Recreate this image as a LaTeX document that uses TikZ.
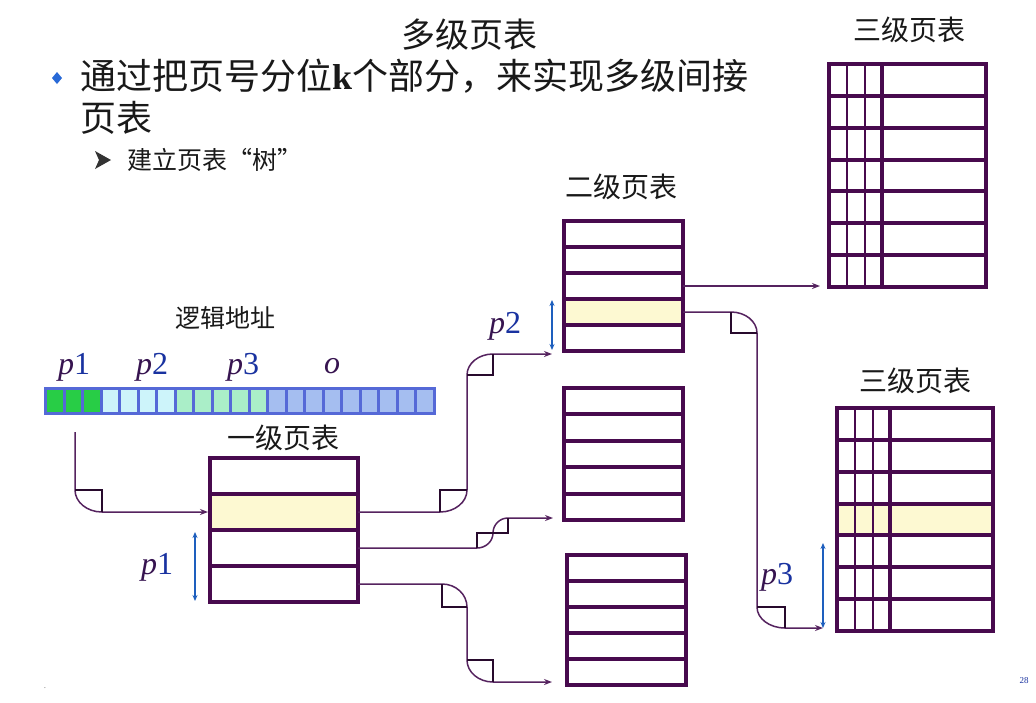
\documentclass[tikz,border=0pt]{standalone}
\usepackage{fontspec}
\setmainfont{Liberation Serif}
\newfontfamily\cjk{Noto Sans CJK SC}
\usetikzlibrary{arrows.meta}

\definecolor{tblc}{RGB}{72,10,78}
\definecolor{connc}{RGB}{85,35,95}
\definecolor{sqc}{RGB}{40,10,45}
\definecolor{hlc}{RGB}{253,249,210}
\definecolor{bluec}{RGB}{30,95,190}
\definecolor{pcol}{RGB}{55,20,80}
\definecolor{dcol}{RGB}{25,50,160}
\definecolor{barc}{RGB}{85,105,215}
\definecolor{cgreen}{RGB}{40,205,70}
\definecolor{ccyan}{RGB}{205,244,250}
\definecolor{clgreen}{RGB}{170,238,200}
\definecolor{cblue}{RGB}{165,190,240}
\definecolor{txt}{RGB}{25,25,25}
\definecolor{bullc}{RGB}{40,105,215}

% one page-table: name, x, y (top), width, row height, rows, highlighted row
\newcommand\mktable[7]{%
  \foreach \i in {1,...,#6}{%
    \ifnum\i=#7\relax\def\rowfill{hlc}\else\def\rowfill{white}\fi
    \node[trow, fill=\rowfill, minimum width=#4pt, minimum height=#5pt]
      (#1r\i) at (#2,{#3+(\i-1)*#5}) {};
  }}

\begin{document}
\begin{tikzpicture}[x=1pt,y=-1pt,
  trow/.style={draw=tblc, line width=4pt, inner sep=0pt, outer sep=0pt, anchor=north west},
  vthin/.style={draw=tblc, line width=1.6pt},
  vthick/.style={draw=tblc, line width=4pt},
  conn/.style={draw=connc, line width=1.5pt, -{Stealth[length=8pt,width=6pt]}},
  sq/.style={draw=sqc, line width=1.3pt},
  bluearr/.style={draw=bluec, line width=1.2pt, {Stealth[length=6pt,width=5pt]}-{Stealth[length=6pt,width=5pt]}},
  cjktxt/.style={inner sep=0pt, text=txt, font=\cjk},
  lbl/.style={inner sep=0pt, font=\fontsize{32}{36}\selectfont},
]
\useasboundingbox (0,0) rectangle (1036,702);
\fill[white] (0,0) rectangle (1036,702);

% heading and bullet text
\node[cjktxt, font=\cjk\fontsize{34}{40}\selectfont] (title) at (469,35) {多级页表};
\fill[bullc] (57,72) -- (62,78) -- (57,84) -- (52,78) -- cycle;
\node[cjktxt, anchor=west, font=\cjk\fontsize{36}{42}\selectfont] (line1) at (80,76)
  {通过把页号分位{\rmfamily\bfseries k}个部分，来实现多级间接};
\node[cjktxt, anchor=west, font=\cjk\fontsize{36}{42}\selectfont] (line2) at (80,118) {页表};
\fill[black!80] (95,151) -- (111,160) -- (95,169) -- (99,160) -- cycle;
\node[cjktxt, anchor=west, font=\cjk\fontsize{25}{30}\selectfont] (sub) at (127,160) {建立页表“树”};

% table captions
\node[cjktxt, font=\cjk\fontsize{28}{32}\selectfont] (capL3a) at (909,30) {三级页表};
\node[cjktxt, font=\cjk\fontsize{28}{32}\selectfont] (capL2) at (621,187) {二级页表};
\node[cjktxt, font=\cjk\fontsize{25}{30}\selectfont] (capAddr) at (225,318) {逻辑地址};
\node[cjktxt, font=\cjk\fontsize{28}{32}\selectfont] (capL1) at (283,438) {一级页表};
\node[cjktxt, font=\cjk\fontsize{28}{32}\selectfont] (capL3b) at (915,381) {三级页表};

% logical address bar
\node[fill=barc, minimum width=392pt, minimum height=28pt, inner sep=0pt, outer sep=0pt, anchor=north west] (addr) at (44,387) {};
\foreach \k in {0,...,20}{%
  \ifnum\k<3 \def\cc{cgreen}\else\ifnum\k<7 \def\cc{ccyan}\else\ifnum\k<12 \def\cc{clgreen}\else\def\cc{cblue}\fi\fi\fi
  \fill[\cc] ({47+\k*18.52},390) rectangle ({47+\k*18.52+15.52},412);
}
\node[lbl] (lp1) at (74,367) {\textit{\textcolor{pcol}{p}}\textcolor{dcol}{1}};
\node[lbl] (lp2) at (152,367) {\textit{\textcolor{pcol}{p}}\textcolor{dcol}{2}};
\node[lbl] (lp3) at (243,367) {\textit{\textcolor{pcol}{p}}\textcolor{dcol}{3}};
\node[lbl] (lo) at (332,366) {\textit{\textcolor{pcol}{o}}};

% first-level table
\mktable{L1}{210}{458}{148}{36}{4}{2}
% second-level tables
\mktable{A}{564}{221}{119}{26}{5}{4}
\mktable{B}{564}{388}{119}{26.4}{5}{0}
\mktable{C}{567}{555}{119}{26}{5}{0}
% third-level tables
\mktable{Ta}{829}{64}{157}{31.86}{7}{0}
\mktable{Tb}{837}{408}{156}{31.86}{7}{4}
\draw[vthin] (847,64) -- (847,287);
\draw[vthin] (865,64) -- (865,287);
\draw[vthick] (882,64) -- (882,287);
\draw[vthin] (855,408) -- (855,631);
\draw[vthin] (873,408) -- (873,631);
\draw[vthick] (890,408) -- (890,631);

% connector end points
\coordinate (c1s) at (75,432);
\coordinate (inA) at (552,354);
\coordinate (inB) at (553,518);
\coordinate (inC) at (552,682);
\coordinate (inTa) at (820,286);
\coordinate (inTb) at (823,628);

% logical address -> first level
\draw[conn, shorten >=2pt] (c1s) -- (75,490) arc[start angle=180,end angle=90,x radius=27,y radius=22] -- (L1r2.west);
\draw[sq] (75,490) -- (102,490) -- (102,512);

% first level -> second level
\draw[conn] (L1r2.east) -- (440,512) arc[start angle=90,end angle=0,x radius=27,y radius=22]
  -- (467,375) arc[start angle=180,end angle=270,x radius=26,y radius=21] -- (inA);
\draw[sq] (440,512) -- (440,490) -- (467,490);
\draw[sq] (467,375) -- (493,375) -- (493,354);

\draw[conn] (L1r3.east) -- (477,548) arc[start angle=90,end angle=0,x radius=16,y radius=15]
  arc[start angle=180,end angle=270,x radius=15,y radius=15] -- (inB);
\draw[sq] (477,548) -- (477,533) -- (508,533) -- (508,518);

\draw[conn] (L1r4.east) -- (442,584) arc[start angle=270,end angle=360,x radius=25,y radius=23]
  -- (467,660) arc[start angle=180,end angle=90,x radius=26,y radius=22] -- (inC);
\draw[sq] (442,584) -- (442,607) -- (467,607);
\draw[sq] (467,660) -- (493,660) -- (493,682);

% second level -> third level
\draw[conn] (Ar3.east) -- (inTa);
\draw[conn] (Ar4.east) -- (731,312) arc[start angle=270,end angle=360,x radius=26,y radius=21]
  -- (757,607) arc[start angle=180,end angle=90,x radius=28,y radius=21] -- (inTb);
\draw[sq] (731,312) -- (731,333) -- (757,333);
\draw[sq] (757,607) -- (785,607) -- (785,628);

% offsets within tables
\coordinate (o1a) at (195,532); \coordinate (o1b) at (195,601);
\coordinate (o2a) at (552,300); \coordinate (o2b) at (552,350);
\coordinate (o3a) at (823,543); \coordinate (o3b) at (823,628);
\draw[bluearr] (o1a) -- (o1b);
\draw[bluearr] (o2a) -- (o2b);
\draw[bluearr] (o3a) -- (o3b);
\node[lbl] (q1) at (157,567) {\textit{\textcolor{pcol}{p}}\textcolor{dcol}{1}};
\node[lbl] (q2) at (505,326) {\textit{\textcolor{pcol}{p}}\textcolor{dcol}{2}};
\node[lbl] (q3) at (777,577) {\textit{\textcolor{pcol}{p}}\textcolor{dcol}{3}};

% page number
\node[inner sep=0pt, font=\fontsize{9}{10}\selectfont, text=dcol] (pg) at (1024,681) {28};
\node[inner sep=0pt, font=\fontsize{9}{10}\selectfont, text=black!50] (dot) at (45,688) {.};
\end{tikzpicture}
\end{document}
